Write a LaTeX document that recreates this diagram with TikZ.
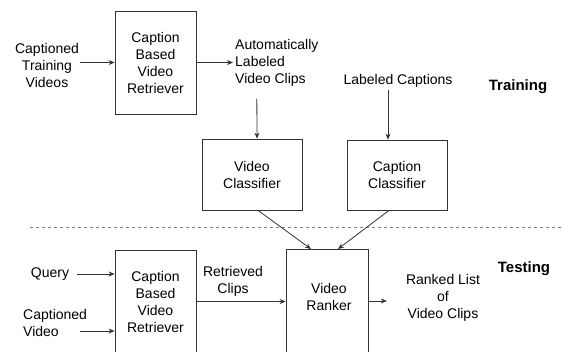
\documentclass[tikz,border=0pt]{standalone}
\usepackage{fontspec}
\setmainfont{Liberation Sans}
\usepackage{tikz}
\usetikzlibrary{arrows.meta, positioning, calc}
\definecolor{linegray}{HTML}{333333}
\tikzstyle{box} = [rectangle, draw=linegray, line width=0.8pt, align=center, font=\fontsize{14}{17}\selectfont]
\tikzstyle{label} = [align=center, inner sep=2pt, font=\fontsize{14}{17}\selectfont]
\tikzstyle{arrow} = [draw=linegray, line width=0.8pt, ->, >={Stealth[length=6pt, width=5pt]}]

\begin{document}
\begin{tikzpicture}[x=1pt, y=-1pt]
      \clip (0,0) rectangle (562,351);

      % Training
      \node[label] (ctv) at (47,65) {Captioned\\Training\\Videos};
      \node[box, minimum width=81pt, minimum height=103pt] (ret1) at (155.5,62.5) {Caption\\Based\\Video\\Retriever};
      \node[label, align=left, anchor=west] (auto) at (233,63) {Automatically\\Labeled\\Video Clips};
      \node[label] (lcap) at (398,81) {Labeled Captions};
      \node[box, minimum width=100pt, minimum height=71pt] (vcls) at (252,174.5) {Video\\Classifier};
      \node[box, minimum width=100pt, minimum height=70pt] (ccls) at (397,175) {Caption\\Classifier};
      \node[label, font=\fontsize{15}{17}\selectfont\bfseries] (train) at (518,87) {Training};

      \draw[arrow] ([xshift=-1pt]ctv.east |- ret1.west) -- (ret1.west);
      \draw[arrow] (ret1.east) -- (ret1.east -| auto.west);
      \draw[arrow] ([xshift=-20pt,yshift=-10pt]auto.south) -- ([xshift=5pt]vcls.north);
      \draw[arrow] ([xshift=-9pt]ccls.north |- lcap.south) -- ([xshift=-9pt]ccls.north);

      % Separator
      \draw[dashed, draw=gray, line width=0.8pt] (30,227) -- (562,227);

      % Testing
      \node[label] (query) at (50,274) {Query};
      \node[label, align=left, anchor=west] (cvid) at (21,323) {Captioned\\Video};
      \node[box, minimum width=81pt, minimum height=103pt] (ret2) at (155.5,301.5) {Caption\\Based\\Video\\Retriever};
      \node[label] (rclips) at (233,281.5) {Retrieved\\Clips};
      \node[box, minimum width=82pt, minimum height=130pt, anchor=north] (ranker) at (327,249) {};
      \node[label] (rtext) at (329,296.5) {Video\\Ranker};
      \node[label] (ranked) at (443,298) {Ranked List\\of\\Video Clips};
      \node[label, font=\fontsize{15}{17}\selectfont\bfseries] (test) at (524,269) {Testing};

      \draw[arrow] ([xshift=6pt]query.east) -- (query.east -| ret2.west);
      \draw[arrow] ([xshift=-9pt,yshift=-8pt]cvid.east) -- ([yshift=-8pt]cvid.east -| ret2.west);
      \draw[arrow] (ret2.east) -- (ret2.east -| ranker.west);
      \draw[arrow] (ranker.east |- 0,301) -- ([xshift=-17pt]ranked.west |- 0,301);
      \draw[arrow] ([xshift=6pt]vcls.south) -- ([xshift=-16pt]ranker.north);
      \draw[arrow] ([xshift=-8pt]ccls.south) -- ([xshift=11pt]ranker.north);
\end{tikzpicture}
\end{document}
